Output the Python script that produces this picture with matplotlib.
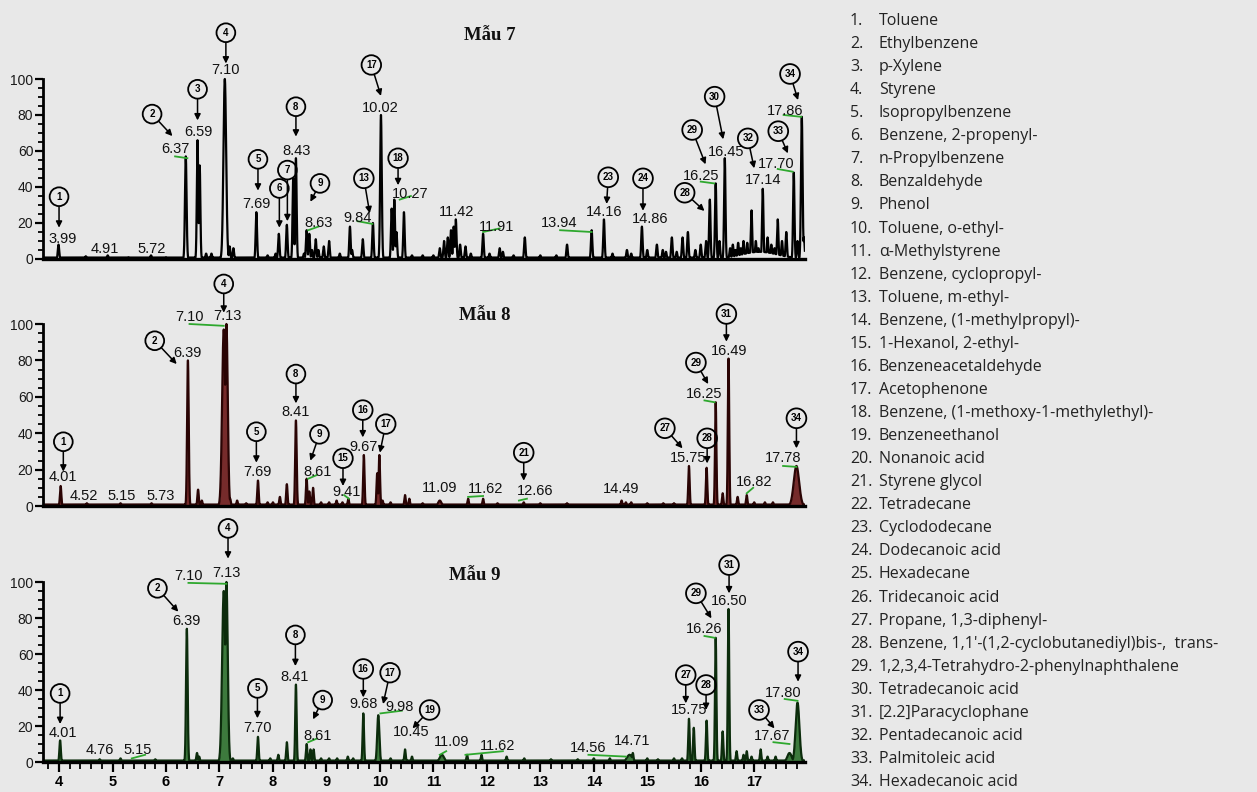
import numpy as np
import matplotlib.pyplot as plt
from matplotlib.ticker import MultipleLocator, FixedLocator

# Chromatogram peaks: (retention time, relative abundance[, peak sigma])
s7_peaks = [(3.99, 8), (4.5, 1.5), (4.91, 2), (5.3, 1), (5.72, 2), (6.0, 1),
            (6.37, 57, 0.015), (6.59, 66, 0.013), (6.63, 52), (6.75, 3), (6.85, 3),
            (7.10, 100, 0.025), (7.19, 7), (7.26, 6), (7.69, 26), (7.9, 2), (8.05, 3),
            (8.11, 14), (8.26, 19), (8.38, 45), (8.43, 56), (8.58, 3), (8.63, 16),
            (8.68, 14), (8.73, 5), (8.8, 11), (8.85, 5), (8.95, 7), (9.05, 10), (9.25, 3),
            (9.44, 18), (9.48, 5), (9.68, 11), (9.87, 20), (10.02, 80, 0.015),
            (10.22, 28), (10.27, 33), (10.31, 15), (10.45, 26), (10.6, 2), (10.8, 2),
            (11.0, 2), (11.12, 6), (11.2, 10), (11.27, 12), (11.33, 16), (11.38, 18),
            (11.42, 22), (11.5, 8), (11.6, 7), (11.7, 3), (11.93, 14), (12.05, 3),
            (12.24, 6), (12.3, 4), (12.5, 2), (12.71, 12), (13.0, 2), (13.3, 2),
            (13.5, 8), (13.96, 16), (14.19, 22), (14.35, 3), (14.62, 5), (14.7, 3),
            (14.9, 18), (15.0, 5), (15.18, 8), (15.29, 5), (15.35, 4), (15.46, 12),
            (15.55, 4), (15.66, 12), (15.76, 15), (15.9, 5), (16.0, 8), (16.1, 10),
            (16.17, 33), (16.28, 42), (16.35, 10), (16.45, 56), (16.55, 6), (16.6, 8),
            (16.65, 5), (16.7, 9), (16.75, 6), (16.8, 10), (16.87, 9), (16.95, 27),
            (17.03, 10), (17.08, 6), (17.16, 39), (17.25, 12), (17.32, 8), (17.38, 6),
            (17.44, 22), (17.52, 10), (17.6, 15), (17.74, 48), (17.81, 10),
            (17.89, 79, 0.015), (17.93, 12), (17.1, 4, 0.35)]
s8_peaks = [(4.03, 11), (4.52, 1.5), (5.15, 1.5), (5.73, 1.5), (6.41, 80, 0.015),
            (6.6, 9), (6.67, 3), (7.08, 97, 0.03), (7.13, 100, 0.025), (7.2, 4),
            (7.33, 3), (7.5, 1.5), (7.72, 14), (7.9, 2), (8.0, 2), (8.13, 5), (8.26, 12),
            (8.43, 47, 0.014), (8.63, 15), (8.68, 8), (8.75, 10), (8.9, 2), (9.05, 2),
            (9.19, 3), (9.3, 2), (9.41, 4), (9.70, 28), (9.95, 18), (9.99, 28),
            (10.05, 3), (10.2, 2), (10.47, 6), (10.55, 4), (10.8, 1.5), (11.12, 3, 0.03),
            (11.65, 4), (11.93, 4), (12.2, 1.5), (12.69, 2), (13.0, 1.5), (13.5, 1.5),
            (14.52, 3), (14.6, 2), (14.7, 2), (15.0, 1.5), (15.3, 1.5), (15.5, 1.5),
            (15.78, 22), (16.11, 21), (16.28, 57), (16.41, 7), (16.52, 81), (16.69, 5),
            (16.86, 6), (17.0, 2), (17.2, 2), (17.35, 2), (17.79, 22, 0.05)]
s9_peaks = [(4.02, 12), (4.76, 1.5), (5.15, 2), (5.8, 1.5), (6.39, 74, 0.015),
            (6.58, 5), (6.62, 3), (7.08, 95, 0.03), (7.13, 100, 0.025), (7.25, 2),
            (7.72, 14), (7.95, 2), (8.1, 4), (8.26, 11), (8.43, 43, 0.013), (8.63, 10),
            (8.7, 7), (8.76, 7), (8.9, 2), (9.05, 2), (9.2, 2), (9.4, 3), (9.5, 2),
            (9.69, 27), (9.97, 26, 0.02), (10.2, 2), (10.47, 7), (10.6, 3),
            (11.16, 4, 0.04), (11.63, 4), (11.9, 4), (12.37, 3), (12.7, 2), (13.2, 1.5),
            (13.7, 1.5), (14.0, 2), (14.3, 2), (14.67, 4, 0.05), (14.73, 5), (15.0, 2),
            (15.2, 1.5), (15.5, 2), (15.65, 2), (15.78, 24), (15.87, 19), (16.11, 23),
            (16.28, 69), (16.41, 17), (16.52, 85), (16.67, 6), (16.8, 4), (16.86, 6),
            (16.95, 3), (17.12, 7), (17.25, 3), (17.4, 3), (17.66, 5, 0.04),
            (17.81, 33, 0.035)]

# retention time labels: (text, x, y)
s7_rt = [("3.99", 4.07, 11), ("4.91", 4.86, 5.5), ("5.72", 5.73, 5.5), ("6.37", 6.17, 61),
         ("6.59", 6.60, 70.6), ("7.10", 7.12, 105), ("7.69", 7.70, 30.5), ("8.43", 8.45, 60),
         ("8.63", 8.85, 20), ("9.84", 9.58, 22.7), ("10.02", 10.0, 84), ("10.27", 10.56, 36),
         ("11.42", 11.43, 26), ("11.91", 12.18, 18), ("13.94", 13.35, 20), ("14.16", 14.19, 26),
         ("14.86", 15.05, 22), ("16.25", 16.01, 46), ("16.45", 16.48, 59.5), ("17.14", 17.16, 44),
         ("17.70", 17.41, 53), ("17.86", 17.57, 82)]
s8_rt = [("4.01", 4.08, 15.8), ("4.52", 4.47, 5.5), ("5.15", 5.17, 5.5), ("5.73", 5.90, 5.5),
         ("6.39", 6.40, 84), ("7.10", 6.44, 103.7), ("7.13", 7.15, 104.4), ("7.69", 7.71, 18.9),
         ("8.41", 8.43, 51.5), ("8.61", 8.83, 18.9), ("9.41", 9.38, 7.9), ("9.67", 9.69, 32.6),
         ("11.09", 11.12, 9.7), ("11.62", 11.98, 9.2), ("12.66", 12.90, 8.4), ("14.49", 14.52, 9.2),
         ("15.75", 15.76, 26.2), ("16.25", 16.07, 61.5), ("16.49", 16.53, 85.3),
         ("16.82", 16.99, 13.4), ("17.78", 17.54, 26.5)]
s9_rt = [("4.01", 4.08, 16.3), ("4.76", 4.77, 6.7), ("5.15", 5.47, 6.5), ("6.39", 6.39, 78.5),
         ("7.10", 6.42, 103.3), ("7.13", 7.13, 105.2), ("7.70", 7.71, 18.7), ("8.41", 8.41, 47.4),
         ("8.61", 8.83, 14.4), ("9.68", 9.69, 32.2), ("9.98", 10.37, 30.4), ("10.45", 10.59, 16.8),
         ("11.09", 11.34, 10.9), ("11.62", 12.21, 8.9), ("14.56", 13.89, 8), ("14.71", 14.72, 11.7),
         ("15.75", 15.78, 28.9), ("16.26", 16.07, 73.7), ("16.50", 16.53, 89.6),
         ("17.67", 17.34, 14.6), ("17.80", 17.55, 38.5)]

# compound ids: (number, circle x, circle y, arrow x, arrow y)
s7_ids = [(1, 4.0, 34.6, 4.0, 17.4), (2, 5.74, 80.5, 6.12, 68.3), (3, 6.59, 94.3, 6.59, 77),
          (4, 7.12, 125.7, 7.12, 108.6), (5, 7.72, 55.4, 7.72, 38), (6, 8.12, 39.2, 8.12, 17.4),
          (7, 8.27, 49.4, 8.27, 21), (8, 8.43, 84.6, 8.43, 68), (9, 8.88, 42, 8.70, 31.8),
          (13, 9.70, 44.8, 9.81, 25.4), (17, 9.84, 107.8, 10.02, 90.6), (18, 10.34, 56, 10.34, 41),
          (23, 14.27, 45.4, 14.24, 30.6), (24, 14.92, 44.8, 14.92, 26.8), (28, 15.70, 36.8, 16.07, 26.7),
          (29, 15.84, 71.7, 16.09, 52.6), (30, 16.26, 90.2, 16.42, 66.5), (32, 16.88, 67, 17.0, 50.4),
          (33, 17.45, 71, 17.63, 58.7), (34, 17.67, 102.8, 17.82, 88.3)]
s8_ids = [(1, 4.08, 35.3, 4.08, 18.9), (2, 5.79, 90.8, 6.20, 78), (4, 7.08, 122, 7.08, 106.2),
          (5, 7.69, 40.8, 7.69, 23.8), (8, 8.43, 72.5, 8.43, 56.4), (9, 8.87, 39.4, 8.70, 24.9),
          (15, 9.31, 26.2, 9.31, 11), (16, 9.68, 52.7, 9.68, 37.7), (17, 10.11, 45, 10.0, 29.3),
          (21, 12.69, 29.3, 12.69, 13.9), (27, 15.33, 42.7, 15.66, 31.7), (28, 16.12, 37.2, 16.12, 23.4),
          (29, 15.91, 78.8, 16.14, 67), (31, 16.48, 105.5, 16.48, 90.3), (34, 17.79, 48.2, 17.79, 31.7)]
s9_ids = [(1, 4.02, 38.1, 4.02, 21.1), (2, 5.84, 96.5, 6.23, 83.5), (4, 7.16, 129.8, 7.16, 113),
          (5, 7.71, 40.9, 7.71, 24.3), (8, 8.42, 70.6, 8.42, 53.3), (9, 8.93, 34.4, 8.75, 23.7),
          (16, 9.69, 51.7, 9.69, 35.9), (17, 10.19, 49.6, 10.06, 32.2), (19, 10.93, 28.9, 10.61, 18.7),
          (27, 15.72, 48.3, 15.72, 32.6), (28, 16.10, 42.8, 16.10, 28.9), (29, 15.91, 93.7, 16.20, 79.8),
          (31, 16.53, 109.4, 16.53, 93.7), (33, 17.09, 28.9, 17.38, 18.7), (34, 17.82, 61.3, 17.82, 44.6)]

# integration marks: (x0, y0, x1, y1)
s7_green = [(6.17, 57, 6.40, 56), (8.66, 16, 8.85, 18), (9.58, 21, 9.86, 19.5),
            (10.37, 33, 10.58, 35), (11.93, 15, 12.24, 17), (13.37, 16, 13.96, 15),
            (16.0, 43, 16.25, 42), (17.44, 50, 17.72, 48.5), (17.55, 80, 17.88, 79)]
s8_green = [(6.44, 100, 7.08, 99), (8.66, 15, 8.82, 17), (9.33, 6, 9.42, 4),
            (11.65, 5, 11.93, 5.5), (12.6, 3, 12.75, 4), (16.07, 58, 16.26, 57),
            (16.86, 7, 16.98, 10), (17.54, 22, 17.79, 21.5)]
s9_green = [(6.42, 99.5, 7.13, 99), (5.36, 2, 5.61, 4), (8.66, 11, 8.82, 13),
            (10.01, 27, 10.41, 28.5), (11.12, 4, 11.24, 6), (11.6, 4, 12.3, 6),
            (13.9, 4, 14.6, 3), (16.07, 70, 16.26, 69), (17.36, 11, 17.66, 10),
            (17.57, 35, 17.81, 34)]

compounds = ["Toluene", "Ethylbenzene", "p-Xylene", "Styrene", "Isopropylbenzene",
             "Benzene, 2-propenyl-", "n-Propylbenzene", "Benzaldehyde", "Phenol",
             "Toluene, o-ethyl-", "α-Methylstyrene", "Benzene, cyclopropyl-",
             "Toluene, m-ethyl-", "Benzene, (1-methylpropyl)-", "1-Hexanol, 2-ethyl-",
             "Benzeneacetaldehyde", "Acetophenone", "Benzene, (1-methoxy-1-methylethyl)-",
             "Benzeneethanol", "Nonanoic acid", "Styrene glycol", "Tetradecane",
             "Cyclododecane", "Dodecanoic acid", "Hexadecane", "Tridecanoic acid",
             "Propane, 1,3-diphenyl-", "Benzene, 1,1'-(1,2-cyclobutanediyl)bis-,  trans-",
             "1,2,3,4-Tetrahydro-2-phenylnaphthalene", "Tetradecanoic acid",
             "[2.2]Paracyclophane", "Pentadecanoic acid", "Palmitoleic acid",
             "Hexadecanoic acid"]

W, H = 1257, 792
BG = '#e8e8e8'
fig = plt.figure(figsize=(W / 100, H / 100), dpi=100, facecolor=BG)

x_lo, x_hi = 3.7, 17.95
grid = np.arange(x_lo, x_hi, 0.002)

panels = [
    dict(title='Mẫu 7', peaks=s7_peaks, rt=s7_rt, ids=s7_ids, green=s7_green,
         line='black', fill=None, y0=259, scale=1.8, top=138, title_px=(490, 35), xt=False),
    dict(title='Mẫu 8', peaks=s8_peaks, rt=s8_rt, ids=s8_ids, green=s8_green,
         line='#2a0404', fill='#6a1616', y0=506, scale=1.82, top=128, title_px=(485, 315), xt=False),
    dict(title='Mẫu 9', peaks=s9_peaks, rt=s9_rt, ids=s9_ids, green=s9_green,
         line='#0c2c0c', fill='#2a6e2a', y0=762, scale=1.8, top=136, title_px=(475, 575), xt=True),
]

for p in panels:
    bot_px = p['y0'] + 2 * p['scale']
    height = (p['top'] + 2) * p['scale']
    ax = fig.add_axes([43 / W, 1 - bot_px / H, 762 / W, height / H])
    ax.set_facecolor('none')
    ax.set_xlim(x_lo, x_hi)
    ax.set_ylim(-2, p['top'])

    # build trace from peak list
    trace = np.full_like(grid, 0.8)
    for pk in p['peaks']:
        sd = pk[2] if len(pk) > 2 else 0.013
        trace = np.maximum(trace, pk[1] * np.exp(-0.5 * ((grid - pk[0]) / sd) ** 2))
    if p['fill']:
        ax.fill_between(grid, 0.8, trace, color=p['fill'], lw=0, alpha=0.9)
    ax.plot(grid, trace, color=p['line'], lw=1.6)

    for x0, y0, x1, y1 in p['green']:
        ax.plot([x0, x1], [y0, y1], color='#2ea82e', lw=1.3)

    for txt, x, y in p['rt']:
        ax.text(x, y, txt, ha='center', va='center', fontsize=10.5,
                family='Liberation Sans', color='#111111')

    for n, cx, cy, tx, ty in p['ids']:
        ax.annotate(str(n), xy=(tx, ty), xytext=(cx, cy), ha='center', va='center',
                    fontsize=7, fontweight='bold', family='Liberation Sans',
                    bbox=dict(boxstyle='circle,pad=0.45', fc='none', ec='black', lw=1.3),
                    arrowprops=dict(arrowstyle='-|>', color='black', lw=1.1,
                                    mutation_scale=9, shrinkA=0, shrinkB=0))

    fig.text(p['title_px'][0] / W, 1 - p['title_px'][1] / H, p['title'],
             ha='center', va='center', fontsize=13.5, fontweight='bold',
             family='Liberation Serif', color='#111111')

    for s in ['top', 'right']:
        ax.spines[s].set_visible(False)
    ax.spines['bottom'].set_position(('data', 0))
    ax.spines['bottom'].set_linewidth(2.4)
    ax.spines['left'].set_linewidth(2.0)
    ax.spines['left'].set_bounds(0, 100)
    ax.set_yticks(range(0, 101, 20))
    ax.yaxis.set_minor_locator(FixedLocator(range(0, 101, 5)))
    ax.tick_params(axis='y', which='major', length=6, width=1.6, labelsize=10,
                   labelcolor='#1a1a1a', pad=1)
    ax.tick_params(axis='y', which='minor', length=3.5, width=1.3)
    for lab in ax.get_yticklabels():
        lab.set_family('Liberation Sans')
    if p['xt']:
        ax.set_xticks(range(4, 18))
        ax.xaxis.set_minor_locator(MultipleLocator(0.2))
        ax.tick_params(axis='x', which='major', length=7, width=1.6, labelsize=10.5, pad=2)
        ax.tick_params(axis='x', which='minor', length=5, width=1.3)
        for lab in ax.get_xticklabels():
            lab.set_family('Liberation Sans')
            lab.set_fontweight('bold')
    else:
        ax.set_xticks([])

# compound key on the right
y_first, step = 21, 23.06
for i, name in enumerate(compounds):
    y = 1 - (y_first + i * step) / H
    fig.text(850 / W, y, f"{i + 1}.", ha='left', va='center', fontsize=11.5,
             family='Open Sans', color='#222222')
    fig.text(879 / W, y, name, ha='left', va='center', fontsize=11.5,
             family='Open Sans', color='#222222')

fig.savefig('out.png', dpi=100, facecolor=BG)
